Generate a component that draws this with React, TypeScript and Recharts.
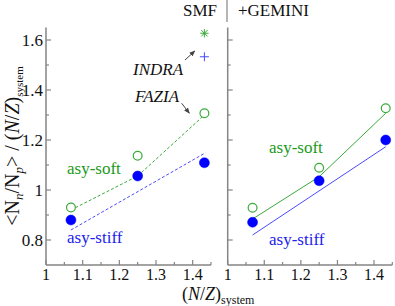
import React from 'react';
import { ComposedChart, Line, XAxis, YAxis, ReferenceLine } from 'recharts';

// ---- data ----
const nzSystem = [1.068, 1.25, 1.432];
const smfSoft = [0.93, 1.137, 1.307];
const smfStiff = [0.88, 1.056, 1.109];
const smfSoftFit = [0.92, 1.056, 1.30];
const smfStiffFitX = [1.068, 1.435];
const smfStiffFit = [0.84, 1.149];
const gemSoft = [0.929, 1.089, 1.327];
const gemStiff = [0.871, 1.037, 1.2];
const gemSoftFit = [0.884, 1.053, 1.307];
const gemStiffFitX = [1.068, 1.432];
const gemStiffFit = [0.82, 1.173];
const indraX = [1.432];
const indraSoft = [1.627];
const indraStiff = [1.533];
const xTicks = [1, 1.05, 1.1, 1.15, 1.2, 1.25, 1.3, 1.35, 1.4, 1.45];
const xTickLabels = ['1', '', '1.1', '', '1.2', '', '1.3', '', '1.4', ''];
const yTicks = [0.8, 0.9, 1, 1.1, 1.2, 1.3, 1.4, 1.5, 1.6];
const yTickLabels = ['0.8', '', '1', '', '1.2', '', '1.4', '', '1.6'];
const indraArrowX = [1.379, 1.406];
const indraArrowY = [1.52, 1.556];
const faziaArrowX = [1.37, 1.391];
const faziaArrowY = [1.347, 1.307];

const zip = (xs: number[], ys: number[]) => xs.map((x, i) => ({ x, y: ys[i] }));

const FONT = '"Liberation Serif", "Times New Roman", serif';
const AXIS = '#858585';
const GREEN = '#3aaa3a';
const GREEN_TXT = '#1a9a1a';
const BLUE = '#0000ff';
const BLUE_LINE = '#4a4aff';
const BLUE_TXT = '#2222ee';
const ARROW = '#444';

const labelFor = (ticks: number[], labels: string[], v: number) => {
  const i = ticks.findIndex((t) => Math.abs(t - v) < 1e-6);
  return i >= 0 ? labels[i] : '';
};

const YTick = (props: any) => {
  const { x, y, payload, showLabel } = props;
  const lab = labelFor(yTicks, yTickLabels, payload.value);
  const major = lab !== '';
  return (
    <g>
      <line x1={x} x2={x + (major ? 5 : 3)} y1={y} y2={y} stroke={AXIS} strokeWidth={1.2} />
      {showLabel && major && (
        <text x={x - 3} y={y} dy="0.36em" textAnchor="end" fontFamily={FONT} fontSize={17} fill="#111">
          {lab}
        </text>
      )}
    </g>
  );
};

const XTick = (props: any) => {
  const { x, y, payload } = props;
  const lab = labelFor(xTicks, xTickLabels, payload.value);
  const major = lab !== '';
  return (
    <g>
      <line x1={x} x2={x} y1={y} y2={y - (major ? 5 : 3)} stroke={AXIS} strokeWidth={1.2} />
      {major && (
        <text x={x} y={y + 15} textAnchor="middle" fontFamily={FONT} fontSize={16} fill="#111">
          {lab}
        </text>
      )}
    </g>
  );
};

const Asterisk = (props: any) => {
  const { cx, cy, index } = props;
  const s = 4.2;
  return (
    <g key={`ast-${index}`} stroke={GREEN} strokeWidth={1}>
      <line x1={cx} y1={cy - s} x2={cx} y2={cy + s} />
      <line x1={cx - s} y1={cy} x2={cx + s} y2={cy} />
      <line x1={cx - s * 0.75} y1={cy - s * 0.75} x2={cx + s * 0.75} y2={cy + s * 0.75} />
      <line x1={cx - s * 0.75} y1={cy + s * 0.75} x2={cx + s * 0.75} y2={cy - s * 0.75} />
    </g>
  );
};

const Plus = (props: any) => {
  const { cx, cy, index } = props;
  const s = 4.5;
  return (
    <g key={`plus-${index}`} stroke={BLUE_LINE} strokeWidth={1}>
      <line x1={cx} y1={cy - s} x2={cx} y2={cy + s} />
      <line x1={cx - s} y1={cy} x2={cx + s} y2={cy} />
    </g>
  );
};

type PanelProps = {
  width: number;
  margin: { top: number; right: number; bottom: number; left: number };
  showYLabels: boolean;
  dashed: boolean;
  soft: number[];
  stiff: number[];
  softFit: number[];
  stiffFitX: number[];
  stiffFit: number[];
  smf?: boolean;
};

const Panel = (p: PanelProps) => {
  const dash = p.dashed ? '3 2' : undefined;
  return (
    <ComposedChart width={p.width} height={306} margin={p.margin}>
      <XAxis
        dataKey="x"
        type="number"
        domain={[1, 1.45]}
        ticks={xTicks}
        interval={0}
        allowDataOverflow
        height={1}
        tickSize={0}
        tickMargin={0}
        tickLine={false}
        axisLine={{ stroke: AXIS, strokeWidth: 1.5 }}
        tick={<XTick />}
      />
      <YAxis
        type="number"
        domain={[0.7, 1.65]}
        ticks={yTicks}
        interval={0}
        allowDataOverflow
        width={1}
        tickSize={0}
        tickMargin={0}
        tickLine={false}
        axisLine={{ stroke: AXIS, strokeWidth: 1.5 }}
        tick={<YTick showLabel={p.showYLabels} />}
      />
      <Line
        data={zip(nzSystem, p.softFit)}
        dataKey="y"
        type="linear"
        stroke={GREEN}
        strokeWidth={1}
        strokeDasharray={dash}
        dot={false}
        activeDot={false}
        isAnimationActive={false}
      />
      <Line
        data={zip(p.stiffFitX, p.stiffFit)}
        dataKey="y"
        type="linear"
        stroke={BLUE_LINE}
        strokeWidth={1}
        strokeDasharray={dash}
        dot={false}
        activeDot={false}
        isAnimationActive={false}
      />
      <Line
        data={zip(nzSystem, p.stiff)}
        dataKey="y"
        stroke="none"
        dot={{ r: 5, fill: BLUE, stroke: BLUE, strokeWidth: 0.5 }}
        activeDot={false}
        isAnimationActive={false}
      />
      <Line
        data={zip(nzSystem, p.soft)}
        dataKey="y"
        stroke="none"
        dot={{ r: 4.4, fill: '#fff', stroke: GREEN, strokeWidth: 1.2 }}
        activeDot={false}
        isAnimationActive={false}
      />
      {p.smf && (
        <Line
          data={zip(indraX, indraSoft)}
          dataKey="y"
          stroke="none"
          dot={Asterisk}
          activeDot={false}
          isAnimationActive={false}
        />
      )}
      {p.smf && (
        <Line
          data={zip(indraX, indraStiff)}
          dataKey="y"
          stroke="none"
          dot={Plus}
          activeDot={false}
          isAnimationActive={false}
        />
      )}
      {p.smf && (
        <ReferenceLine
          segment={zip(indraArrowX, indraArrowY)}
          stroke={ARROW}
          strokeWidth={1}
          markerEnd="url(#arrowHead)"
        />
      )}
      {p.smf && (
        <ReferenceLine
          segment={zip(faziaArrowX, faziaArrowY)}
          stroke={ARROW}
          strokeWidth={1}
          markerEnd="url(#arrowHead)"
        />
      )}
    </ComposedChart>
  );
};

export default function App() {
  return (
    <div style={{ position: 'absolute', left: 0, top: 0, width: 395, height: 306, background: '#fff', overflow: 'hidden' }}>
      <svg width={0} height={0} style={{ position: 'absolute' }}>
        <defs>
          <marker id="arrowHead" viewBox="0 0 10 10" refX="9" refY="5" markerWidth="6" markerHeight="6" orient="auto" markerUnits="userSpaceOnUse">
            <path d="M0,1 L10,5 L0,9 z" fill={ARROW} />
          </marker>
        </defs>
      </svg>
      <div style={{ position: 'absolute', left: 0, top: 0 }}>
        <Panel
          width={215}
          margin={{ top: 27.5, right: 4, bottom: 40, left: 45 }}
          showYLabels
          dashed
          soft={smfSoft}
          stiff={smfStiff}
          softFit={smfSoftFit}
          stiffFitX={smfStiffFitX}
          stiffFit={smfStiffFit}
          smf
        />
      </div>
      <div style={{ position: 'absolute', left: 215, top: 0 }}>
        <Panel
          width={180}
          margin={{ top: 27.5, right: 2.7, bottom: 40, left: 11.7 }}
          showYLabels={false}
          dashed={false}
          soft={gemSoft}
          stiff={gemStiff}
          softFit={gemSoftFit}
          stiffFitX={gemStiffFitX}
          stiffFit={gemStiffFit}
        />
      </div>
      <svg width={395} height={306} style={{ position: 'absolute', left: 0, top: 0, pointerEvents: 'none' }} fontFamily={FONT}>
        <text x={217} y={16} textAnchor="end" fontSize={17} fill="#111">SMF</text>
        <line x1={227} x2={227} y1={0} y2={22} stroke={AXIS} strokeWidth={1.2} />
        <text x={238} y={16} fontSize={17} fill="#111">+GEMINI</text>
        <text x={133} y={75} fontSize={17} fontStyle="italic" fill="#111">INDRA</text>
        <text x={135} y={102} fontSize={17} fontStyle="italic" fill="#111">FAZIA</text>
        <text x={67} y={174} fontSize={17} fill={GREEN_TXT}>asy-soft</text>
        <text x={67} y={243} fontSize={17} fill={BLUE_TXT}>asy-stiff</text>
        <text x={269} y={153} fontSize={17} fill={GREEN_TXT}>asy-soft</text>
        <text x={269} y={245} fontSize={17} fill={BLUE_TXT}>asy-stiff</text>
        <text x={182} y={300} fontSize={18} fill="#111">
          (<tspan fontStyle="italic">N</tspan>/<tspan fontStyle="italic">Z</tspan>)
          <tspan fontSize={12} dy={4}>system</tspan>
        </text>
        <text transform="translate(19,146) rotate(-90)" textAnchor="middle" fontSize={20} fill="#111">
          {'<N'}
          <tspan fontSize={13} fontStyle="italic" dy={4}>n</tspan>
          <tspan dy={-4}>/N</tspan>
          <tspan fontSize={13} fontStyle="italic" dy={4}>p</tspan>
          <tspan dy={-4}>{'> / ('}</tspan>
          <tspan fontStyle="italic">N</tspan>/<tspan fontStyle="italic">Z</tspan>)
          <tspan fontSize={11} dy={4}>system</tspan>
        </text>
      </svg>
    </div>
  );
}
